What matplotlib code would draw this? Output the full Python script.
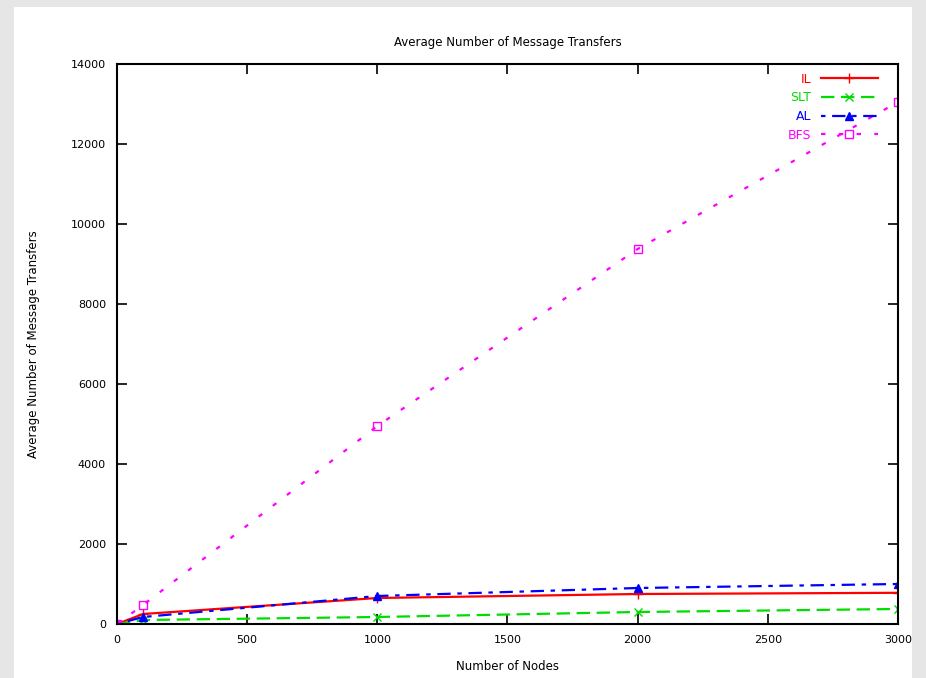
import matplotlib
matplotlib.use("Agg")
import matplotlib.pyplot as plt
from matplotlib.patches import Rectangle

# number of nodes
nodes = [0, 100, 1000, 2000, 3000]

# average number of message transfers
il = [0, 250, 650, 750, 780]
slt = [0, 100, 175, 300, 375]
al = [0, 175, 700, 900, 1000]
bfs = [0, 475, 4950, 9375, 13050]

fig = plt.figure(figsize=(9.26, 6.78), dpi=100, facecolor="#e6e6e6")
# white panel inside grey border
fig.patches.append(Rectangle((14 / 926, 0), (912 - 14) / 926, (678 - 7) / 678,
                             transform=fig.transFigure, facecolor="white",
                             edgecolor="none", zorder=-5))

ax = fig.add_axes([117 / 926, 1 - 624 / 678, (898 - 117) / 926, (624 - 64) / 678])
ax.set_zorder(2)

ax.plot(nodes, il, color="#ff0000", lw=1.6, marker="+", ms=7, label="IL")
ax.plot(nodes, slt, color="#00dd00", lw=1.6, dashes=(6, 3), marker="x", ms=6, label="SLT")
ax.plot(nodes, al, color="#0000ff", lw=1.6, dashes=(2, 3, 6, 3), marker="^", ms=6, label="AL")
ax.plot(nodes, bfs, color="#ff00ff", lw=1.6, dashes=(2, 6), marker="s", ms=6,
        mfc="none", label="BFS")

ax.set_xlim(0, 3000)
ax.set_ylim(0, 14000)
ax.set_xticks(range(0, 3001, 500))
ax.set_yticks(range(0, 14001, 2000))
ax.tick_params(direction="in", length=7, width=1.2, top=True, right=True,
               labelsize=8, pad=8)
for s in ax.spines.values():
    s.set_linewidth(1.5)

ax.set_title("Average Number of Message Transfers", fontsize=8.5, pad=13)
ax.set_xlabel("Number of Nodes", fontsize=8.5, labelpad=11)
ax.set_ylabel("Average Number of Message Transfers", fontsize=8.5, labelpad=22)

ax.legend(loc="upper right", frameon=False, markerfirst=False, handlelength=4.5,
          fontsize=9, labelcolor="linecolor", labelspacing=0.45,
          bbox_to_anchor=(0.985, 1.0), borderaxespad=0.3)

fig.savefig("out.png", dpi=100, facecolor=fig.get_facecolor())
